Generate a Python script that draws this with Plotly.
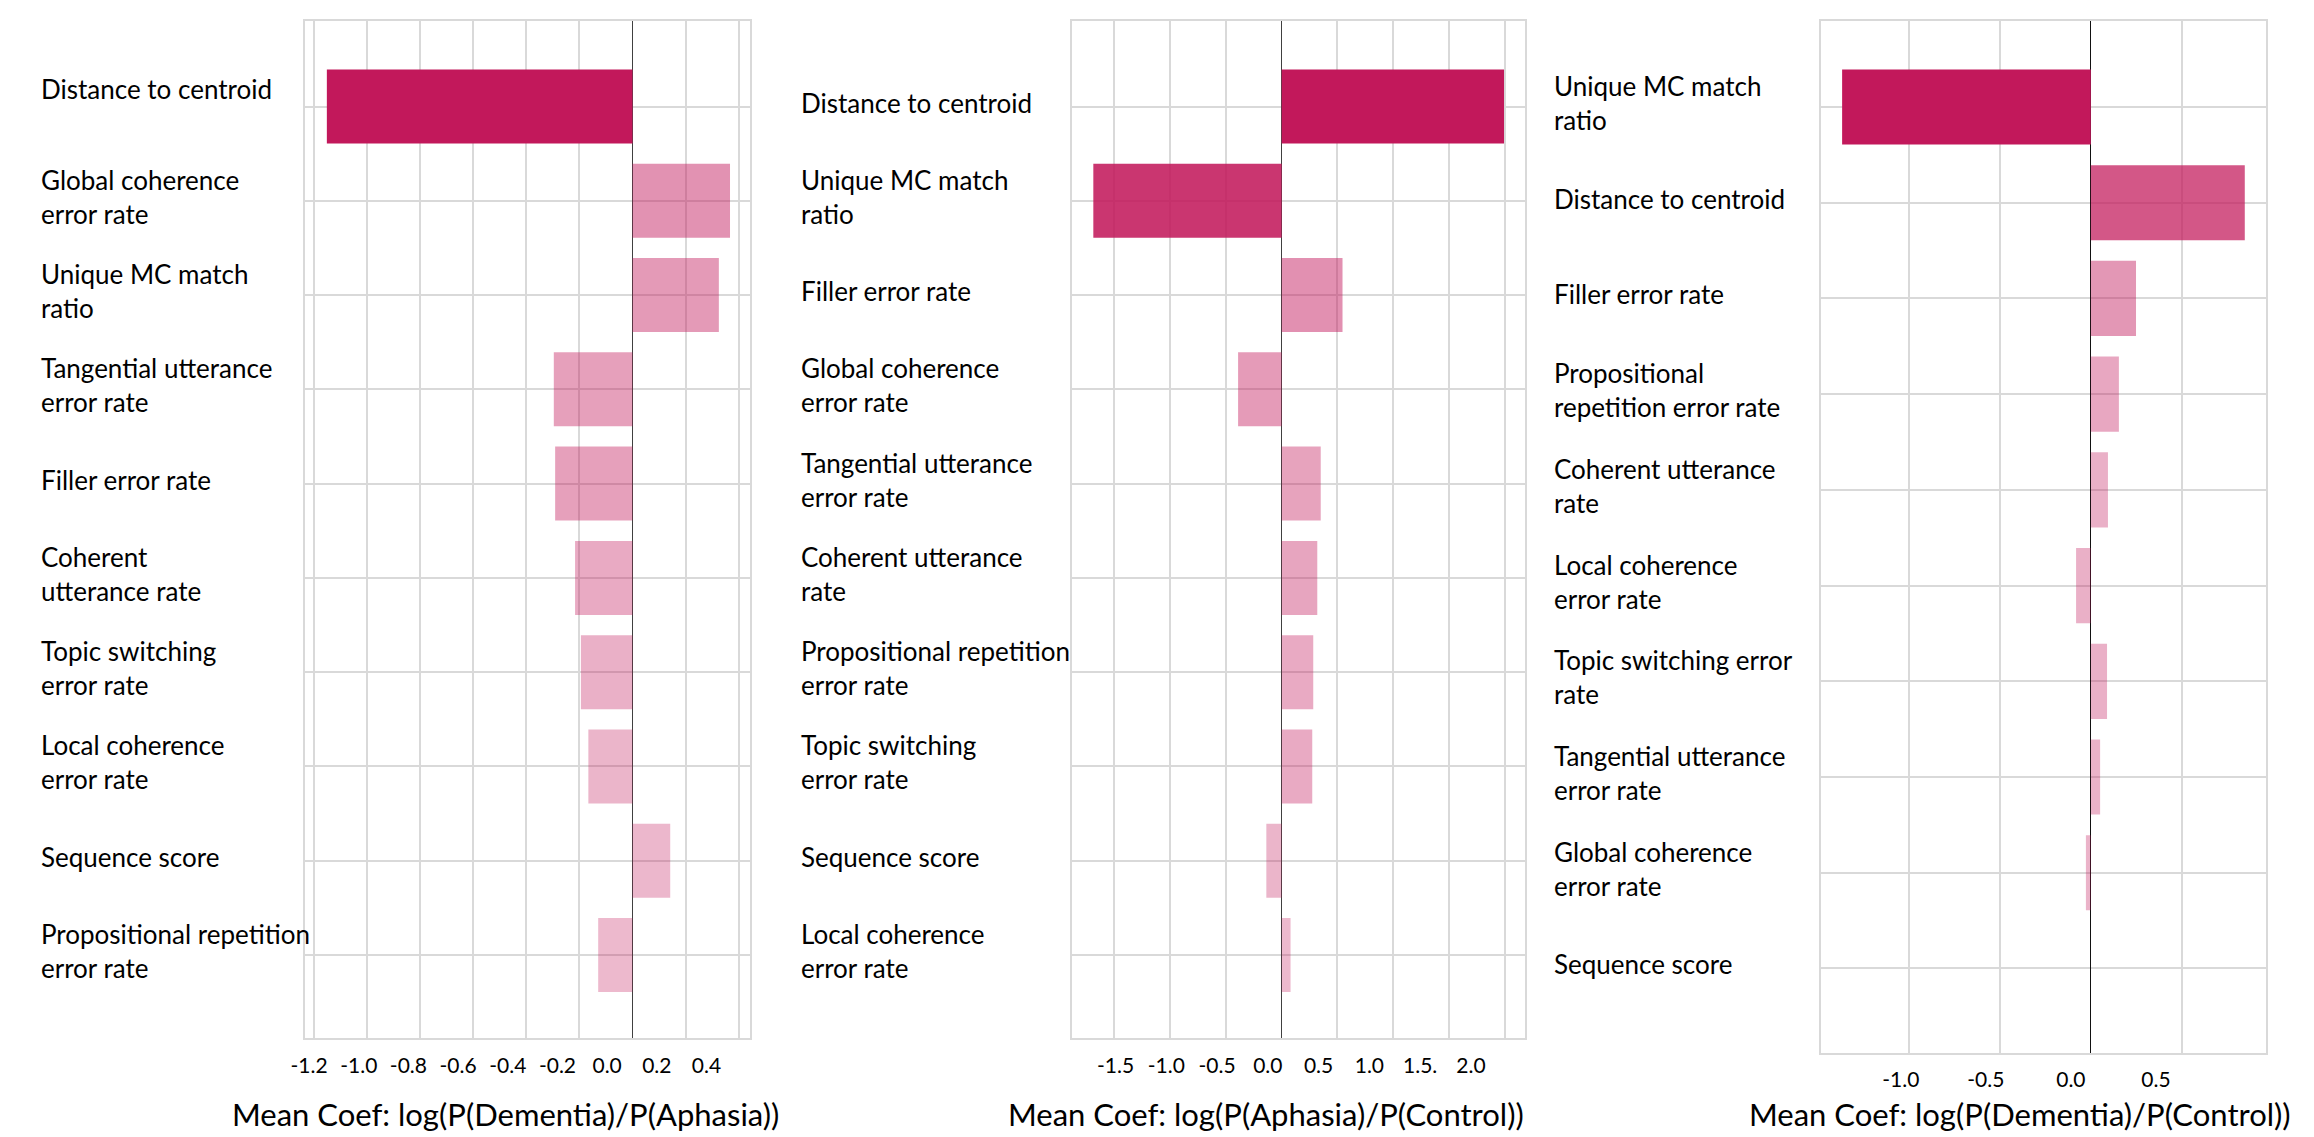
import plotly.graph_objects as go

W, H = 2314, 1137

# ---------------- data ----------------
P1_FEATURES = ["Distance to centroid", "Global coherence error rate", "Unique MC match ratio",
               "Tangential utterance error rate", "Filler error rate", "Coherent utterance rate",
               "Topic switching error rate", "Local coherence error rate", "Sequence score",
               "Propositional repetition error rate"]
P1_LABELS = ["Distance to centroid", "Global coherence<br>error rate", "Unique MC match<br>ratio",
             "Tangential utterance<br>error rate", "Filler error rate", "Coherent<br>utterance rate",
             "Topic switching<br>error rate", "Local coherence<br>error rate", "Sequence score",
             "Propositional repetition<br>error rate"]
P1_VALUES = [-1.150, 0.367, 0.325, -0.296, -0.291, -0.216, -0.194, -0.166, 0.142, -0.129]

P2_FEATURES = ["Distance to centroid", "Unique MC match ratio", "Filler error rate",
               "Global coherence error rate", "Tangential utterance error rate", "Coherent utterance rate",
               "Propositional repetition error rate", "Topic switching error rate", "Sequence score",
               "Local coherence error rate"]
P2_LABELS = ["Distance to centroid", "Unique MC match<br>ratio", "Filler error rate",
             "Global coherence<br>error rate", "Tangential utterance<br>error rate", "Coherent utterance<br>rate",
             "Propositional repetition<br>error rate", "Topic switching<br>error rate", "Sequence score",
             "Local coherence<br>error rate"]
P2_VALUES = [1.991, -1.686, 0.545, -0.390, 0.350, 0.319, 0.283, 0.274, -0.137, 0.080]

P3_FEATURES = ["Unique MC match ratio", "Distance to centroid", "Filler error rate",
               "Propositional repetition error rate", "Coherent utterance rate", "Local coherence error rate",
               "Topic switching error rate", "Tangential utterance error rate", "Global coherence error rate",
               "Sequence score"]
P3_LABELS = ["Unique MC match<br>ratio", "Distance to centroid", "Filler error rate",
             "Propositional<br>repetition error rate", "Coherent utterance<br>rate", "Local coherence<br>error rate",
             "Topic switching error<br>rate", "Tangential utterance<br>error rate", "Global coherence<br>error rate",
             "Sequence score"]
P3_VALUES = [-1.365, 0.845, 0.248, 0.154, 0.094, -0.081, 0.089, 0.051, -0.027, 0.0]

P1_GRID = [-1.2, -1.0, -0.8, -0.6, -0.4, -0.2, 0.0, 0.2, 0.4]
P1_TICKS = [-1.2, -1.0, -0.8, -0.6, -0.4, -0.2, 0.0, 0.2, 0.4]
P1_TICKTEXT = ["-1.2", "-1.0", "-0.8", "-0.6", "-0.4", "-0.2", "0.0", "0.2", "0.4"]
P2_GRID = [-1.5, -1.0, -0.5, 0.0, 0.5, 1.0, 1.5, 2.0]
P2_TICKS = [-1.5, -1.0, -0.5, 0.0, 0.5, 1.0, 1.5, 2.0]
P2_TICKTEXT = ["-1.5", "-1.0", "-0.5", "0.0", "0.5", "1.0", "1.5.", "2.0"]
P3_GRID = [-1.0, -0.5, 0.0, 0.5]
P3_TICKS = [-1.0, -0.5, 0.0, 0.5]
P3_TICKTEXT = ["-1.0", "-0.5", "0.0", "0.5"]

TITLES = ["Mean Coef: log(P(Dementia)/P(Aphasia))",
          "Mean Coef: log(P(Aphasia)/P(Control))",
          "Mean Coef: log(P(Dementia)/P(Control))"]

# ---------------- style ----------------
FONT = "Lato"
BASE = "194,24,91"
GRID = "#d9d9d9"
P1_ALPHA = [1.0, 0.47, 0.44, 0.41, 0.41, 0.37, 0.34, 0.32, 0.31, 0.30]
P2_ALPHA = [1.0, 0.87, 0.48, 0.43, 0.40, 0.39, 0.37, 0.37, 0.32, 0.30]
P3_ALPHA = [1.0, 0.73, 0.45, 0.38, 0.34, 0.34, 0.34, 0.33, 0.33, 0.30]


def px(x):
    return x / W


def py(y):
    return 1 - y / H


panels = [
    dict(feat=P1_FEATURES, lab=P1_LABELS, val=P1_VALUES, alpha=P1_ALPHA, grid=P1_GRID, ticks=P1_TICKS,
         ticktext=P1_TICKTEXT, xdom=(292.3, 740.2), ydom=(21.4, 1038.4), xr=[-1.2307, 0.4437],
         lr=[-1.2148, 0.5768], yr=[9.885, -0.903], lx=24, title_x=493.5, zc="#404040", shifts={0: 18}),
    dict(feat=P2_FEATURES, lab=P2_LABELS, val=P2_VALUES, alpha=P2_ALPHA, grid=P2_GRID, ticks=P2_TICKS,
         ticktext=P2_TICKTEXT, xdom=(1064.0, 1520.1), ydom=(21.4, 1038.4), xr=[-1.876, 2.181],
         lr=[-1.9276, 2.5352], yr=[9.885, -0.903], lx=789, title_x=1259.5, zc="#404040", shifts={}),
    dict(feat=P3_FEATURES, lab=P3_LABELS, val=P3_VALUES, alpha=P3_ALPHA, grid=P3_GRID, ticks=P3_TICKS,
         ticktext=P3_TICKTEXT, xdom=(1817.4, 2265.6), ydom=(21.4, 1053.0), xr=[-1.483, 0.961],
         lr=[-1.4714, 1.1466], yr=[9.883, -0.894], lx=1547, title_x=2018, zc="#111111", shifts={}),
]

fig = go.Figure()
layout = dict(width=W, height=H, margin=dict(l=0, r=0, t=0, b=0),
              paper_bgcolor="white", plot_bgcolor="white", showlegend=False,
              bargap=0.215, font=dict(family=FONT, color="#000000"))
annotations = []

for i, p in enumerate(panels):
    n = i + 1
    xa = "x" if n == 1 else "x%d" % n
    ya = "y" if n == 1 else "y%d" % n
    xkey = "xaxis" if n == 1 else "xaxis%d" % n
    ykey = "yaxis" if n == 1 else "yaxis%d" % n
    lab_n = n + 3
    lkey = "xaxis%d" % lab_n
    la = "x%d" % lab_n

    fig.add_trace(go.Bar(x=p["val"], y=p["feat"], orientation="h", xaxis=xa, yaxis=ya,
                         marker=dict(color=["rgba(%s,%.2f)" % (BASE, a) for a in p["alpha"]],
                                     line=dict(width=0)),
                         hoverinfo="x+y"))
    fig.add_trace(go.Scatter(x=[p["lr"][0]], y=[p["feat"][0]], xaxis=la, yaxis=ya, mode="markers",
                             marker=dict(opacity=0), hoverinfo="skip"))

    layout[xkey] = dict(domain=[px(p["xdom"][0]), px(p["xdom"][1])], anchor=ya, range=p["xr"],
                        tickmode="array", tickvals=p["grid"], showticklabels=False,
                        showgrid=True, gridcolor=GRID, gridwidth=1.5,
                        zeroline=True, zerolinecolor=p["zc"], zerolinewidth=1.3,
                        showline=True, mirror=True, linecolor=GRID, linewidth=2, ticks="")
    layout[lkey] = dict(overlaying=xa, anchor=ya, range=p["lr"], tickmode="array",
                        tickvals=p["ticks"], ticktext=p["ticktext"], showgrid=False, zeroline=False,
                        showline=False, ticks="outside", ticklen=8, tickcolor="rgba(0,0,0,0)",
                        tickfont=dict(family=FONT, size=21, color="#000000"), side="bottom")
    layout[ykey] = dict(domain=[py(p["ydom"][1]), py(p["ydom"][0])], anchor=xa, type="category",
                        categoryorder="array", categoryarray=p["feat"], range=p["yr"],
                        showticklabels=False, showgrid=True, gridcolor=GRID, gridwidth=1.5,
                        zeroline=False, showline=True, mirror=True, linecolor=GRID, linewidth=2, ticks="")

    for j, (f, t) in enumerate(zip(p["feat"], p["lab"])):
        annotations.append(dict(x=px(p["lx"]), xref="paper", y=f, yref=ya, text=t, showarrow=False,
                                xanchor="left", yanchor="middle", align="left",
                                yshift=p["shifts"].get(j, 4),
                                font=dict(family=FONT, size=26, color="#000000")))
    annotations.append(dict(x=px(p["title_x"]), xref="paper", y=py(1114), yref="paper", text=TITLES[i],
                            showarrow=False, xanchor="center", yanchor="middle",
                            font=dict(family=FONT, size=31, color="#000000")))

layout["annotations"] = annotations
fig.update_layout(**layout)
fig.write_html("out.html")
